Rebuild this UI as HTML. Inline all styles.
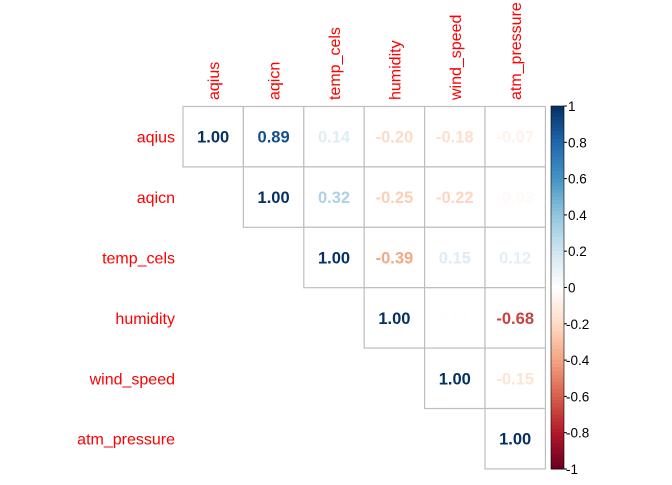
<!DOCTYPE html>
<html><head><meta charset="utf-8"><style>
body{margin:0;background:#fff}
svg text{font-family:"Liberation Sans",Arial,sans-serif}
</style></head><body>
<svg id="c" width="672" height="480" viewBox="0 0 672 480" xmlns="http://www.w3.org/2000/svg"></svg>
<script>
const variables=["aqius","aqicn","temp_cels","humidity","wind_speed","atm_pressure"];
const corrValues=[
[1.00,0.89,0.14,-0.20,-0.18,-0.07],
[null,1.00,0.32,-0.25,-0.22,-0.03],
[null,null,1.00,-0.39,0.15,0.12],
[null,null,null,1.00,0.01,-0.68],
[null,null,null,null,1.00,-0.15],
[null,null,null,null,null,1.00]];
const legendTicks=[1,0.8,0.6,0.4,0.2,0,-0.2,-0.4,-0.6,-0.8,-1];
const pal=["#67001F","#B2182B","#D6604D","#F4A582","#FDDBC7","#FFFFFF","#D1E5F0","#92C5DE","#4393C3","#2166AC","#053061"];
function hex(h){return [1,3,5].map(i=>parseInt(h.substr(i,2),16));}
function col(v){const t=(v+1)/2*(pal.length-1);const i=Math.min(pal.length-2,Math.floor(t));const f=t-i;
const a=hex(pal[i]),b=hex(pal[i+1]);return "rgb("+a.map((x,k)=>Math.round(x+(b[k]-x)*f)).join(",")+")";}
const svg=document.getElementById('c');const NS="http://www.w3.org/2000/svg";
function el(t,a,txt){const e=document.createElementNS(NS,t);for(const k in a)e.setAttribute(k,a[k]);if(txt!=null)e.textContent=txt;svg.appendChild(e);return e;}
const x0=183,y0=106.5,cw=60.4,ch=60.4;
const xs=j=>x0+j*cw, ys=i=>y0+i*ch;
variables.forEach((v,i)=>{
 const r=el('text',{x:175,y:ys(i)+ch/2+6,'text-anchor':'end','font-size':16,fill:'#ff0000'},v);
 
 
 const cx=xs(i)+cw/2+6;
 const c=el('text',{x:cx,y:100,'font-size':16,fill:'#ff0000',transform:`rotate(-90 ${cx} 100)`},v);
 
 
});
corrValues.forEach((row,i)=>row.forEach((v,j)=>{
 if(v==null)return;
 const r=el('rect',{x:xs(j),y:ys(i),width:cw,height:ch,fill:'#fff',stroke:'#bebebe','stroke-width':1.2});
 
 
 const t=el('text',{x:xs(j)+cw/2,y:ys(i)+ch/2+6,'text-anchor':'middle','font-size':16.5,'font-weight':'bold',fill:col(v)},v.toFixed(2));
 
 
}));
// colorbar
const bx=551,bw=13,bt=106,bb=469;
const ly=v=>bt+(1-v)/2*(bb-bt);
const n=100;
for(let k=0;k<n;k++){const v=1-2*(k+0.5)/n;
 const r=el('rect',{x:bx,y:ly(1-2*k/n),width:bw,height:(bb-bt)/n+0.5,fill:col(v)});
 
 }
const bd=el('rect',{x:bx,y:bt,width:bw,height:bb-bt,fill:'none',stroke:'#000','stroke-width':0.6});


legendTicks.forEach(v=>{
 const l=el('line',{x1:bx+bw,x2:bx+bw+3,y1:ly(v),y2:ly(v),stroke:'#000'});
 
 
 const t=el('text',{x:bx+bw+(v<0?2:4),y:ly(v)+5,'font-size':13.5,fill:'#000'},String(v));
 
 
});
</script>
</body></html>
